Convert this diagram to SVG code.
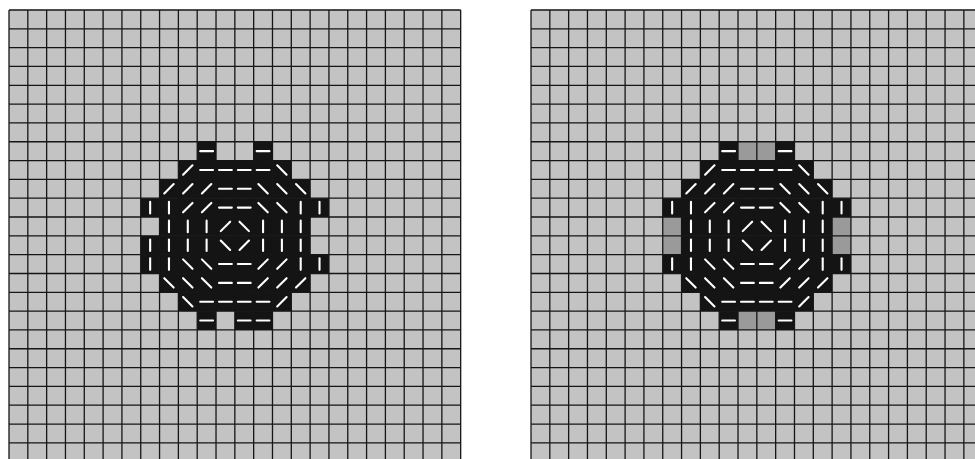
<svg xmlns="http://www.w3.org/2000/svg" xmlns:xlink="http://www.w3.org/1999/xlink" width="975" height="459" viewBox="0 0 975 459">
<style>
.bg{fill:#c3c3c3}
.blk{fill:#141414}
.mid{fill:#9a9a9a}
.grid{fill:none;stroke:#161616;stroke-width:1.3}
.mk{fill:none;stroke:#ffffff;stroke-width:2.1;stroke-linecap:round}
</style>
<defs>
<path id="h" class="mk" d="M-6.4 0H6.4"/>
<path id="v" class="mk" d="M0 -5.8V5.8"/>
<path id="f" class="mk" d="M-4.7 4.7L4.7 -4.7"/>
<path id="b" class="mk" d="M-4.7 -4.7L4.7 4.7"/>
<path id="gridlines" class="grid" d="M0 0V451.68M18.82 0V451.68M37.64 0V451.68M56.46 0V451.68M75.28 0V451.68M94.1 0V451.68M112.92 0V451.68M131.74 0V451.68M150.56 0V451.68M169.38 0V451.68M188.2 0V451.68M207.02 0V451.68M225.84 0V451.68M244.66 0V451.68M263.48 0V451.68M282.3 0V451.68M301.12 0V451.68M319.94 0V451.68M338.76 0V451.68M357.58 0V451.68M376.4 0V451.68M395.22 0V451.68M414.04 0V451.68M432.86 0V451.68M451.68 0V451.68M0 0H451.68M0 18.82H451.68M0 37.64H451.68M0 56.46H451.68M0 75.28H451.68M0 94.1H451.68M0 112.92H451.68M0 131.74H451.68M0 150.56H451.68M0 169.38H451.68M0 188.2H451.68M0 207.02H451.68M0 225.84H451.68M0 244.66H451.68M0 263.48H451.68M0 282.3H451.68M0 301.12H451.68M0 319.94H451.68M0 338.76H451.68M0 357.58H451.68M0 376.4H451.68M0 395.22H451.68M0 414.04H451.68M0 432.86H451.68M0 451.68H451.68"/>
<g id="commonBlack">
<rect class="blk" x="188.2" y="131.74" width="18.82" height="18.82"/>
<rect class="blk" x="244.66" y="131.74" width="18.82" height="18.82"/>
<rect class="blk" x="169.38" y="150.56" width="112.92" height="18.82"/>
<rect class="blk" x="150.56" y="169.38" width="150.56" height="18.82"/>
<rect class="blk" x="131.74" y="188.2" width="188.2" height="18.82"/>
<rect class="blk" x="150.56" y="207.02" width="150.56" height="18.82"/>
<rect class="blk" x="150.56" y="225.84" width="150.56" height="18.82"/>
<rect class="blk" x="131.74" y="244.66" width="188.2" height="18.82"/>
<rect class="blk" x="150.56" y="263.48" width="150.56" height="18.82"/>
<rect class="blk" x="169.38" y="282.3" width="112.92" height="18.82"/>
<rect class="blk" x="188.2" y="301.12" width="18.82" height="18.82"/>
<rect class="blk" x="244.66" y="301.12" width="18.82" height="18.82"/>
</g>
<g id="marks">
<use href="#h" x="197.61" y="141.15"/><use href="#h" x="254.07" y="141.15"/>
<use href="#f" x="178.79" y="159.97"/><use href="#h" x="197.61" y="159.97"/><use href="#h" x="216.43" y="159.97"/><use href="#h" x="235.25" y="159.97"/><use href="#h" x="254.07" y="159.97"/><use href="#b" x="272.89" y="159.97"/>
<use href="#f" x="159.97" y="178.79"/><use href="#f" x="178.79" y="178.79"/><use href="#f" x="197.61" y="178.79"/><use href="#h" x="216.43" y="178.79"/><use href="#h" x="235.25" y="178.79"/><use href="#b" x="254.07" y="178.79"/><use href="#b" x="272.89" y="178.79"/><use href="#b" x="291.71" y="178.79"/>
<use href="#v" x="141.15" y="197.61"/><use href="#v" x="159.97" y="197.61"/><use href="#f" x="178.79" y="197.61"/><use href="#f" x="197.61" y="197.61"/><use href="#h" x="216.43" y="197.61"/><use href="#h" x="235.25" y="197.61"/><use href="#b" x="254.07" y="197.61"/><use href="#b" x="272.89" y="197.61"/><use href="#v" x="291.71" y="197.61"/><use href="#v" x="310.53" y="197.61"/>
<use href="#v" x="159.97" y="216.43"/><use href="#v" x="178.79" y="216.43"/><use href="#v" x="197.61" y="216.43"/><use href="#f" x="216.43" y="216.43"/><use href="#b" x="235.25" y="216.43"/><use href="#v" x="254.07" y="216.43"/><use href="#v" x="272.89" y="216.43"/><use href="#v" x="291.71" y="216.43"/>
<use href="#v" x="159.97" y="235.25"/><use href="#v" x="178.79" y="235.25"/><use href="#v" x="197.61" y="235.25"/><use href="#b" x="216.43" y="235.25"/><use href="#f" x="235.25" y="235.25"/><use href="#v" x="254.07" y="235.25"/><use href="#v" x="272.89" y="235.25"/><use href="#v" x="291.71" y="235.25"/>
<use href="#v" x="141.15" y="254.07"/><use href="#v" x="159.97" y="254.07"/><use href="#b" x="178.79" y="254.07"/><use href="#b" x="197.61" y="254.07"/><use href="#h" x="216.43" y="254.07"/><use href="#h" x="235.25" y="254.07"/><use href="#f" x="254.07" y="254.07"/><use href="#f" x="272.89" y="254.07"/><use href="#v" x="291.71" y="254.07"/><use href="#v" x="310.53" y="254.07"/>
<use href="#b" x="159.97" y="272.89"/><use href="#b" x="178.79" y="272.89"/><use href="#b" x="197.61" y="272.89"/><use href="#h" x="216.43" y="272.89"/><use href="#h" x="235.25" y="272.89"/><use href="#f" x="254.07" y="272.89"/><use href="#f" x="272.89" y="272.89"/><use href="#f" x="291.71" y="272.89"/>
<use href="#b" x="178.79" y="291.71"/><use href="#h" x="197.61" y="291.71"/><use href="#h" x="216.43" y="291.71"/><use href="#h" x="235.25" y="291.71"/><use href="#h" x="254.07" y="291.71"/><use href="#f" x="272.89" y="291.71"/>
<use href="#h" x="197.61" y="310.53"/><use href="#h" x="254.07" y="310.53"/>
</g>
</defs>
<g id="left-grid" transform="translate(9,10)">
<rect class="bg" x="0" y="0" width="451.68" height="451.68"/>
<use href="#commonBlack"/>
<rect class="blk" x="131.74" y="225.84" width="18.82" height="18.82"/>
<rect class="blk" x="225.84" y="301.12" width="18.82" height="18.82"/>
<use href="#gridlines"/>
<use href="#marks"/>
<use href="#v" x="141.15" y="235.25"/>
<use href="#h" x="235.25" y="310.53"/>
</g>
<g id="right-grid" transform="translate(531,10)">
<rect class="bg" x="0" y="0" width="451.68" height="451.68"/>
<use href="#commonBlack"/>
<rect class="mid" x="207.02" y="131.74" width="37.64" height="18.82"/>
<rect class="mid" x="207.02" y="301.12" width="37.64" height="18.82"/>
<rect class="mid" x="131.74" y="207.02" width="18.82" height="37.64"/>
<rect class="mid" x="301.12" y="207.02" width="18.82" height="37.64"/>
<use href="#gridlines"/>
<use href="#marks"/>
</g>
</svg>
